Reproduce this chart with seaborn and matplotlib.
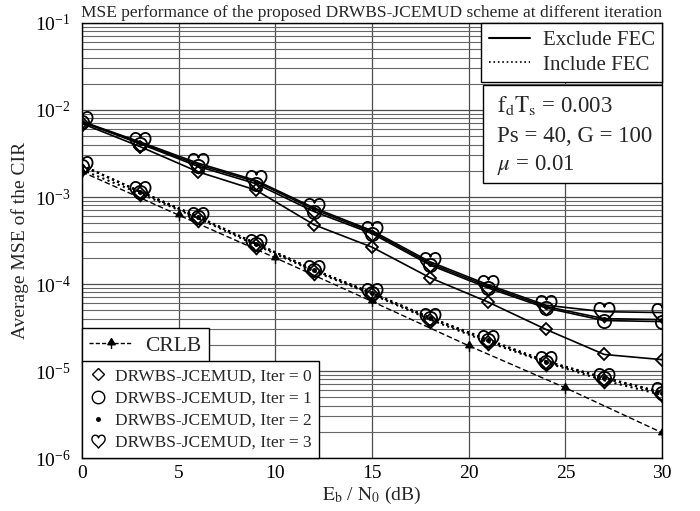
import numpy as np
import pandas as pd
import matplotlib
matplotlib.use("Agg")
import matplotlib.pyplot as plt
import seaborn as sns
from matplotlib.path import Path
from matplotlib.lines import Line2D
from matplotlib.patches import Rectangle
from matplotlib.ticker import LogLocator, NullFormatter

# ---------------- data ----------------
snr_iter = [0, 3, 6, 9, 12, 15, 18, 21, 24, 27, 30]
snr_crlb = [0, 5, 10, 15, 20, 25, 30]

crlb = [1.95e-3, 6.2e-4, 2.0e-4, 6.3e-5, 1.95e-5, 6.4e-6, 1.95e-6]

excl_iter0 = [7.0e-3, 3.8e-3, 1.95e-3, 1.2e-3, 4.8e-4, 2.65e-4, 1.18e-4, 6.2e-5, 3.0e-5, 1.55e-5, 1.35e-5]
excl_iter1 = [7.3e-3, 4.1e-3, 2.25e-3, 1.42e-3, 6.8e-4, 3.8e-4, 1.65e-4, 9.0e-5, 5.3e-5, 3.8e-5, 3.7e-5]
excl_iter2 = [7.3e-3, 4.2e-3, 2.35e-3, 1.5e-3, 7.2e-4, 3.95e-4, 1.72e-4, 9.4e-5, 5.5e-5, 4.0e-5, 3.9e-5]
excl_iter3 = [7.4e-3, 4.3e-3, 2.45e-3, 1.55e-3, 7.5e-4, 4.1e-4, 1.8e-4, 9.8e-5, 5.7e-5, 4.8e-5, 4.7e-5]

incl_iter0 = [2.05e-3, 1.1e-3, 5.7e-4, 2.8e-4, 1.4e-4, 7.6e-5, 3.9e-5, 2.15e-5, 1.25e-5, 7.8e-6, 5.3e-6]
incl_iter1 = [2.3e-3, 1.15e-3, 5.9e-4, 2.9e-4, 1.45e-4, 7.8e-5, 4.05e-5, 2.25e-5, 1.28e-5, 8.3e-6, 5.6e-6]
incl_iter2 = [2.3e-3, 1.15e-3, 5.9e-4, 2.9e-4, 1.45e-4, 7.8e-5, 4.05e-5, 2.25e-5, 1.28e-5, 8.3e-6, 5.6e-6]
incl_iter3 = [2.3e-3, 1.16e-3, 5.95e-4, 2.92e-4, 1.46e-4, 7.9e-5, 4.1e-5, 2.3e-5, 1.3e-5, 8.4e-6, 5.7e-6]

iter_labels = ["DRWBS-JCEMUD, Iter = 0", "DRWBS-JCEMUD, Iter = 1",
               "DRWBS-JCEMUD, Iter = 2", "DRWBS-JCEMUD, Iter = 3"]
title = "MSE performance of the proposed DRWBS-JCEMUD scheme at different iteration"

# ---------------- style ----------------
sns.set_style("white")
plt.rcParams["font.family"] = ["Liberation Serif", "DejaVu Serif"]
plt.rcParams["mathtext.fontset"] = "stix"

# heart marker (outline)
hv = [(0, -1.0),
      (-0.15, -0.7), (-1.0, -0.2), (-1.0, 0.35),
      (-1.0, 0.75), (-0.75, 0.95), (-0.5, 0.95),
      (-0.2, 0.95), (0, 0.75), (0, 0.55),
      (0, 0.75), (0.2, 0.95), (0.5, 0.95),
      (0.75, 0.95), (1.0, 0.75), (1.0, 0.35),
      (1.0, -0.2), (0.15, -0.7), (0, -1.0),
      (0, -1.0)]
hc = [Path.MOVETO] + [Path.CURVE4] * 18 + [Path.CLOSEPOLY]
heart = Path(hv, hc)

# CRLB spade-like marker
sv = [(-0.6, -0.2), (0.6, -0.2), (0, 0.8), (-0.6, -0.2), (0, -0.2), (0, -0.9)]
sc = [Path.MOVETO, Path.LINETO, Path.LINETO, Path.CLOSEPOLY, Path.MOVETO, Path.LINETO]
spade = Path(sv, sc)

fig = plt.figure(figsize=(7.0, 5.11), dpi=100)
ax = fig.add_axes([0.117, 0.1037, 0.829, 0.8513])

markers = ["D", "o", ".", heart]
msizes = [6.5, 9.5, 4.5, 14.5]
mfcs = ["none", "none", "k", "none"]

excl = [excl_iter0, excl_iter1, excl_iter2, excl_iter3]
incl = [incl_iter0, incl_iter1, incl_iter2, incl_iter3]

for i in range(4):
    sns.lineplot(x=snr_iter, y=excl[i], ax=ax, color="k", lw=1.2, linestyle="-",
                 marker=markers[i], markersize=msizes[i], markerfacecolor=mfcs[i],
                 markeredgecolor="k", markeredgewidth=1.3, legend=False,
                 errorbar=None, zorder=3)
for i in range(4):
    sns.lineplot(x=snr_iter, y=incl[i], ax=ax, color="k", lw=1.5, linestyle=":",
                 marker=markers[i], markersize=msizes[i], markerfacecolor=mfcs[i],
                 markeredgecolor="k", markeredgewidth=1.3, legend=False,
                 errorbar=None, zorder=3)

sns.lineplot(x=snr_crlb, y=crlb, ax=ax, color="k", lw=1.0, linestyle=(0, (4, 2)),
             marker=spade, markersize=8, markerfacecolor="k", markeredgecolor="k",
             markeredgewidth=1.0, legend=False, errorbar=None, zorder=3)

ax.set_yscale("log")
ax.set_xlim(0, 30)
ax.set_ylim(1e-6, 1e-1)
ax.set_xticks([0, 5, 10, 15, 20, 25, 30])
ax.yaxis.set_major_locator(LogLocator(base=10, numticks=10))
ax.yaxis.set_minor_locator(LogLocator(base=10, subs=np.arange(2, 10), numticks=20))
ax.yaxis.set_minor_formatter(NullFormatter())
ax.grid(True, which="major", color="0.3", lw=0.9)
ax.grid(True, which="minor", axis="y", color="0.4", lw=0.8)
ax.tick_params(axis="both", which="both", length=0, labelsize=14, colors="k")
ax.tick_params(axis="y", pad=8)
ax.tick_params(axis="x", pad=5)
for s in ax.spines.values():
    s.set_color("k")
    s.set_linewidth(1.0)

ax.set_xlabel(r"$\mathrm{E_b}$ / $\mathrm{N_0}$ (dB)", fontsize=14, labelpad=2)
ax.set_ylabel("Average MSE of the CIR", fontsize=14, labelpad=4)
ax.set_title(title, fontsize=12.5, pad=4)

# legend: line styles
h1 = [Line2D([], [], color="k", lw=1.5), Line2D([], [], color="k", lw=1.2, ls=":")]
leg1 = ax.legend(h1, ["Exclude FEC", "Include FEC"], loc="upper right",
                 borderaxespad=0, fancybox=False, edgecolor="k", framealpha=1,
                 fontsize=15, handlelength=2.0, handletextpad=0.6,
                 labelspacing=0.25, borderpad=0.35)
leg1.get_frame().set_linewidth(1.0)
ax.add_artist(leg1)

# parameter box
ax.add_patch(Rectangle((0.691, 0.632), 0.309, 0.225, transform=ax.transAxes,
                       facecolor="white", edgecolor="k", lw=1.0, zorder=6))
ax.text(0.716, 0.793, r"$\mathrm{f_dT_s}$ = 0.003", transform=ax.transAxes,
        fontsize=16.5, va="baseline", ha="left", zorder=7)
ax.text(0.716, 0.727, "Ps = 40, G = 100", transform=ax.transAxes,
        fontsize=16.5, va="baseline", ha="left", zorder=7)
ax.text(0.716, 0.662, r"$\mu$ = 0.01", transform=ax.transAxes,
        fontsize=16.5, va="baseline", ha="left", zorder=7)

# legend: CRLB
h2 = [Line2D([], [], color="k", lw=1.0, ls=(0, (3, 1.5)), marker=spade, ms=8,
             mfc="k", mec="k")]
leg2 = ax.legend(h2, ["CRLB"], loc="lower left", bbox_to_anchor=(0, 0.218),
                 borderaxespad=0, fancybox=False, edgecolor="k", framealpha=1,
                 fontsize=15.5, handlelength=2.0, handletextpad=0.6, borderpad=0.35)
leg2.get_frame().set_linewidth(1.0)
ax.add_artist(leg2)

# legend: markers
h3 = [Line2D([], [], ls="none", marker="D", ms=6.5, mfc="none", mec="k", mew=1.0),
      Line2D([], [], ls="none", marker="o", ms=9, mfc="none", mec="k", mew=1.0),
      Line2D([], [], ls="none", marker=".", ms=5, mfc="k", mec="k"),
      Line2D([], [], ls="none", marker=heart, ms=9.5, mfc="none", mec="k", mew=1.0)]
leg3 = ax.legend(h3, iter_labels, loc="lower left", borderaxespad=0,
                 fancybox=False, edgecolor="k", framealpha=1, fontsize=12.5,
                 handlelength=1.0, handletextpad=0.5, labelspacing=0.35, borderpad=0.4)
leg3.get_frame().set_linewidth(1.0)

fig.savefig("out.png", dpi=100)
